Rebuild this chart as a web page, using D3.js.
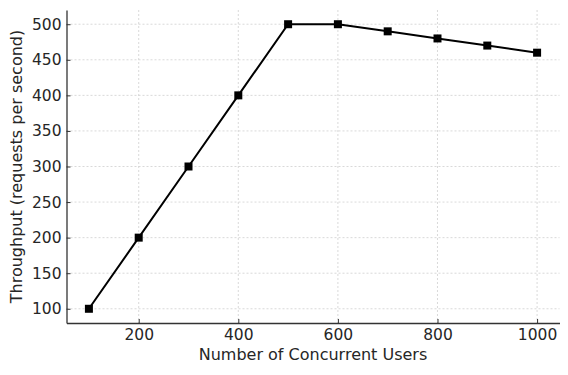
<!DOCTYPE html>
<html>
<head>
    <meta charset="UTF-8">
    <script src="https://d3js.org/d3.v7.min.js"></script>
    <style type="text/css">
        body { margin: 0; background: #fff; }
        text { font-family: "DejaVu Sans", sans-serif; fill: #262626; }
    </style>
</head>
<body>
    <script type="text/javascript">
        // data
        var users = [100, 200, 300, 400, 500, 600, 700, 800, 900, 1000];
        var throughput = [100, 200, 300, 400, 500, 500, 490, 480, 470, 460];
        var xTicks = [200, 400, 600, 800, 1000];
        var yTicks = [100, 150, 200, 250, 300, 350, 400, 450, 500];

        var W = 568, H = 375;
        var margin = { top: 10, right: 8.5, bottom: 52, left: 66.5 },
            width = W - margin.left - margin.right,
            height = H - margin.top - margin.bottom;

        var data = users.map(function (u, i) { return { x: u, y: throughput[i] }; });

        // matplotlib style 5% margins
        var x = d3.scaleLinear().domain([55, 1045]).range([0, width]);
        var y = d3.scaleLinear().domain([80, 520]).range([height, 0]);

        var svg = d3.select("body").append("svg")
            .attr("width", W)
            .attr("height", H)
            .append("g")
            .attr("transform", "translate(" + margin.left + "," + margin.top + ")");

        // grid
        svg.append("g").selectAll("line").data(xTicks).enter().append("line")
            .attr("x1", function (d) { return x(d); })
            .attr("x2", function (d) { return x(d); })
            .attr("y1", 0).attr("y2", height)
            .attr("stroke", "#cfcfcf").attr("stroke-width", 0.8)
            .attr("stroke-dasharray", "2,2");
        svg.append("g").selectAll("line").data(yTicks).enter().append("line")
            .attr("y1", function (d) { return y(d); })
            .attr("y2", function (d) { return y(d); })
            .attr("x1", 0).attr("x2", width)
            .attr("stroke", "#cfcfcf").attr("stroke-width", 0.8)
            .attr("stroke-dasharray", "2,2");

        // axes, ticks pointing inward
        var xAxis = d3.axisBottom(x).tickValues(xTicks).tickFormat(d3.format("d"))
            .tickSizeInner(-4).tickSizeOuter(0).tickPadding(6);
        var yAxis = d3.axisLeft(y).tickValues(yTicks).tickFormat(d3.format("d"))
            .tickSizeInner(-4).tickSizeOuter(0).tickPadding(5);

        var gx = svg.append("g")
            .attr("transform", "translate(0," + height + ")")
            .call(xAxis);
        var gy = svg.append("g").call(yAxis);

        [gx, gy].forEach(function (g) {
            g.select(".domain").attr("stroke", "#333").attr("stroke-width", 1.3);
            g.selectAll(".tick line").attr("stroke", "#333").attr("stroke-width", 1);
            g.selectAll(".tick text")
                .style("font-family", "DejaVu Sans")
                .style("font-size", "15.5px")
                .attr("fill", "#262626");
        });

        // line
        var line = d3.line()
            .x(function (d) { return x(d.x); })
            .y(function (d) { return y(d.y); });

        svg.append("path")
            .datum(data)
            .attr("d", line)
            .attr("fill", "none")
            .attr("stroke", "#000")
            .attr("stroke-width", 2);

        var ms = 8;
        svg.selectAll(".pt").data(data).enter().append("rect")
            .attr("class", "pt")
            .attr("x", function (d) { return x(d.x) - ms / 2; })
            .attr("y", function (d) { return y(d.y) - ms / 2; })
            .attr("width", ms)
            .attr("height", ms)
            .attr("fill", "#000");

        // labels
        svg.append("text")
            .attr("x", width / 2)
            .attr("y", height + 37)
            .attr("text-anchor", "middle")
            .style("font-size", "16px")
            .text("Number of Concurrent Users");

        svg.append("text")
            .attr("transform", "rotate(-90)")
            .attr("x", -height / 2)
            .attr("y", -44.5)
            .attr("text-anchor", "middle")
            .style("font-size", "16px")
            .text("Throughput (requests per second)");
    </script>
</body>
</html>
